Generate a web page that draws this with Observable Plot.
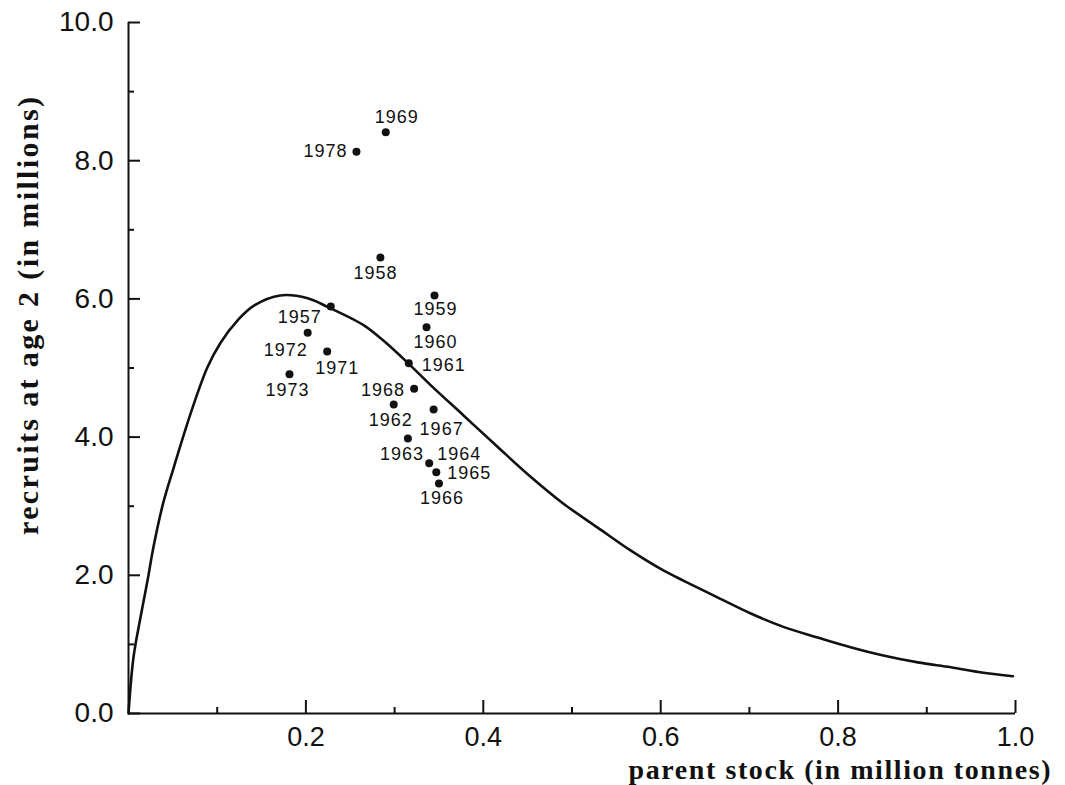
<!DOCTYPE html>
<html><head><meta charset="utf-8">
<script src="https://cdn.jsdelivr.net/npm/d3@7"></script>
<script src="https://cdn.jsdelivr.net/npm/@observablehq/plot@0.6"></script>
<style>
html,body{margin:0;padding:0;background:#fff;}
#chart svg{display:block;}
g[aria-label="text"] text{letter-spacing:1px;}
</style></head><body><div id="chart"></div>
<script>
// ---- data ----
const years = ["1969","1978","1958","1959","1960","1961","1968","1962","1967","1963","1964","1965","1966","1957","1972","1971","1973"];
const stock = [0.290,0.257,0.284,0.345,0.336,0.316,0.322,0.299,0.344,0.315,0.339,0.347,0.350,0.228,0.202,0.224,0.1815];
const recruits = [8.41,8.13,6.60,6.05,5.59,5.07,4.70,4.47,4.40,3.98,3.62,3.49,3.33,5.89,5.51,5.24,4.91];

const curveStock = [0,0.0056,0.0135,0.0214,0.028,0.039,0.051,0.070,0.089,0.104,0.123,0.141,0.171,0.202,0.225,0.265,0.287,0.316,0.340,0.378,0.416,0.453,0.490,0.529,0.566,0.603,0.626,0.664,0.701,0.739,0.777,0.814,0.851,0.890,0.927,0.964,0.997];
const curveRecruits = [0,0.81,1.39,1.92,2.40,3.04,3.56,4.34,5.01,5.37,5.69,5.90,6.05,6.01,5.88,5.62,5.40,5.06,4.76,4.31,3.86,3.43,3.04,2.69,2.36,2.07,1.92,1.68,1.45,1.25,1.10,0.96,0.84,0.74,0.67,0.59,0.54];

const xMajorTicks = [0.2,0.4,0.6,0.8,1.0];
const xMinorTicks = [0.1,0.3,0.5,0.7,0.9];
const xTickLabels = ["0.2","0.4","0.6","0.8","1.0"];
const yMajorTicks = [0,2,4,6,8,10];
const yMinorTicks = [1,3,5,7,9];
const yTickLabels = ["0.0","2.0","4.0","6.0","8.0","10.0"];

const xTitle = "parent stock (in million tonnes)";
const yTitle = "recruits at age 2 (in millions)";

// ---- label placement (layout only: pixel offsets from each dot) ----
const labelLayout = {
  "1969": {dx:-11, dy:-15, anchor:"start"},
  "1978": {dx:-9,  dy:0,   anchor:"end"},
  "1958": {dx:-5,  dy:16,  anchor:"middle"},
  "1959": {dx:1,   dy:14,  anchor:"middle"},
  "1960": {dx:9,   dy:15,  anchor:"middle"},
  "1961": {dx:13,  dy:2,   anchor:"start"},
  "1968": {dx:-9,  dy:2,   anchor:"end"},
  "1962": {dx:-3,  dy:16,  anchor:"middle"},
  "1967": {dx:8,   dy:20,  anchor:"middle"},
  "1963": {dx:-6,  dy:16,  anchor:"middle"},
  "1964": {dx:8,   dy:-9,  anchor:"start"},
  "1965": {dx:11,  dy:1,   anchor:"start"},
  "1966": {dx:3,   dy:15,  anchor:"middle"},
  "1957": {dx:-31, dy:11,  anchor:"middle"},
  "1972": {dx:-22, dy:17,  anchor:"middle"},
  "1971": {dx:10,  dy:17,  anchor:"middle"},
  "1973": {dx:-2,  dy:16,  anchor:"middle"}
};

const pts = years.map((yr,i)=>({year:yr, s:stock[i], r:recruits[i]}));
const curve = curveStock.map((s,i)=>({s, r:curveRecruits[i]}));

const tickFont = "Liberation Sans, Arial, sans-serif";
const titleFont = "Liberation Serif, Times New Roman, serif";
const ink = "#111";

const labelMarks = pts.map(p => {
  const L = labelLayout[p.year];
  return Plot.text([p], {x:"s", y:"r", text:"year", dx:L.dx, dy:L.dy, textAnchor:L.anchor,
    fontSize:18, fontFamily:tickFont, fill:ink});
});

const chart = Plot.plot({
  width:1065, height:785,
  marginLeft:128, marginRight:50, marginTop:22, marginBottom:72,
  x:{domain:[0,1]},
  y:{domain:[0,10]},
  style:{background:"#fff", color:ink},
  marks:[
    // axis lines
    Plot.ruleX([0], {stroke:ink, strokeWidth:2}),
    Plot.ruleY([0], {stroke:ink, strokeWidth:2}),
    // inward ticks (zero-length rules on the axis, extended inward by insets)
    Plot.ruleX(xMajorTicks, {x:d=>d, y1:0, y2:0, insetBottom:13, stroke:ink, strokeWidth:2}),
    Plot.ruleX(xMinorTicks, {x:d=>d, y1:0, y2:0, insetBottom:6, stroke:ink, strokeWidth:2}),
    Plot.ruleY(yMajorTicks, {y:d=>d, x1:0, x2:0, insetRight:-12, stroke:ink, strokeWidth:2}),
    Plot.ruleY(yMinorTicks, {y:d=>d, x1:0, x2:0, insetRight:-6, stroke:ink, strokeWidth:2}),
    // tick labels
    Plot.axisX(xMajorTicks, {tickSize:0, tickPadding:13, label:null,
      tickFormat:d=>xTickLabels[xMajorTicks.indexOf(d)], fontSize:27, fontFamily:tickFont, fill:ink}),
    Plot.axisY(yMajorTicks, {tickSize:0, tickPadding:15, label:null,
      tickFormat:d=>yTickLabels[yMajorTicks.indexOf(d)], fontSize:28, fontFamily:tickFont, fill:ink}),
    Plot.line(curve, {x:"s", y:"r", curve:"catmull-rom", stroke:ink, strokeWidth:2.6}),
    Plot.dot(pts, {x:"s", y:"r", r:4, fill:ink, stroke:"none"}),
    ...labelMarks,
    Plot.text([xTitle], {text:d=>d, frameAnchor:"bottom-right", textAnchor:"end", lineAnchor:"middle", dx:35, dy:57,
      fontSize:28, fontWeight:"bold", fontFamily:titleFont, fill:ink}),
    Plot.text([yTitle], {text:d=>d, frameAnchor:"left", rotate:-90, textAnchor:"middle", lineAnchor:"middle", dx:-100, dy:-52,
      fontSize:30, fontWeight:"bold", fontFamily:titleFont, fill:ink})
  ]
});
document.getElementById("chart").appendChild(chart);

// stretch titles to the reference's text length
d3.select(chart).selectAll("text").each(function(){
  if (this.textContent === xTitle) d3.select(this).attr("textLength", 422).attr("lengthAdjust","spacing").style("letter-spacing","0");
  if (this.textContent === yTitle) d3.select(this).attr("textLength", 438).attr("lengthAdjust","spacing").style("letter-spacing","0");
});
</script></body></html>
